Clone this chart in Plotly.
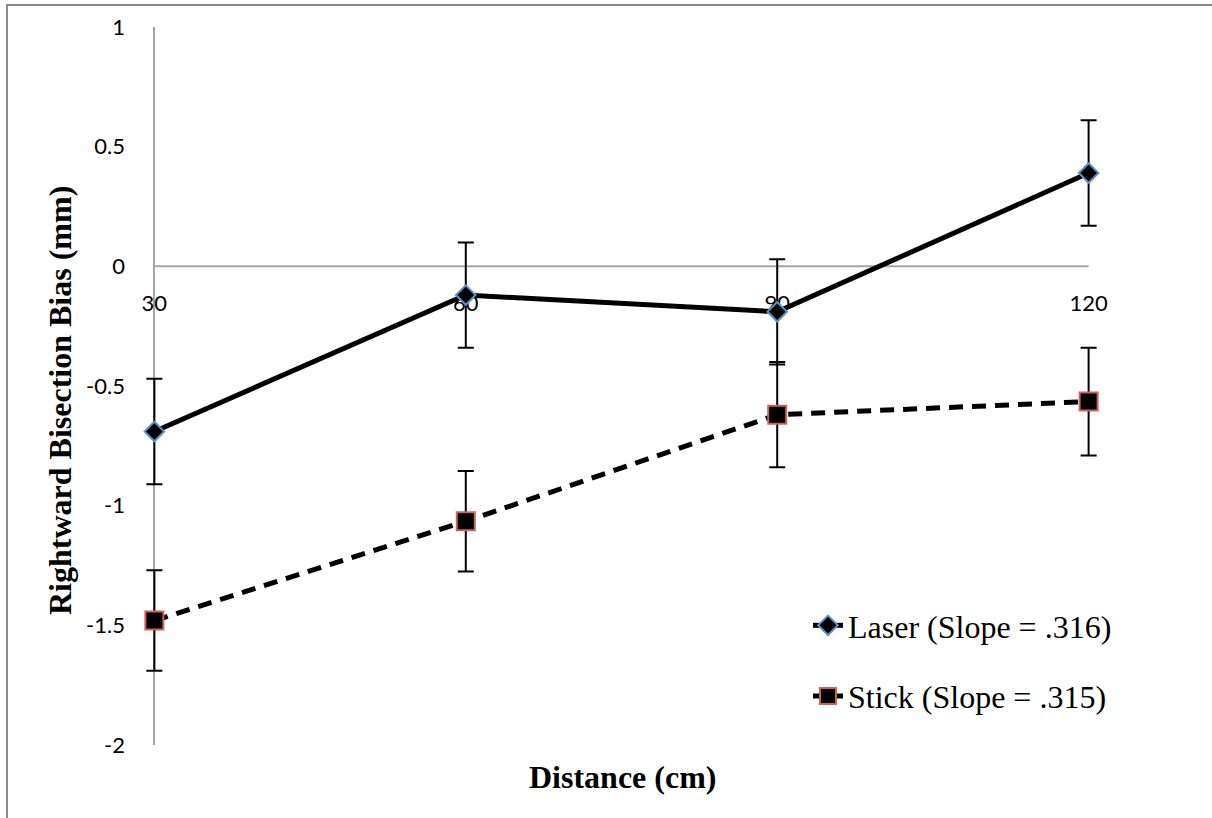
import plotly.graph_objects as go

# ---- data ----
distance = [30, 60, 90, 120]
x_ticktext = ["30", "60", "90", "120"]

laser_bias = [-0.69, -0.12, -0.19, 0.39]
laser_err = [0.22, 0.22, 0.22, 0.22]

stick_bias = [-1.48, -1.065, -0.62, -0.565]
stick_err = [0.21, 0.21, 0.22, 0.225]

y_tickvals = [1, 0.5, 0, -0.5, -1, -1.5, -2]
y_ticktext = ["1", "0.5", "0", "-0.5", "-1", "-1.5", "-2"]

laser_name = "Laser (Slope = .316)"
stick_name = "Stick (Slope = .315)"

# ---- layout geometry ----
W, H = 1212, 818
ML, MR, MT, MB = 144, 113, 27, 73
PW, PH = W - ML - MR, H - MT - MB
YMIN, YMAX = -2, 1
XPAD = 1  # small padding so error-bar caps at the ends are not clipped
XMIN, XMAX = distance[0] - XPAD, distance[-1] + XPAD


def px_x(p):
    return (p - ML) / PW


def px_y(p):
    return (H - MB - p) / PH


fig = go.Figure()

fig.add_trace(go.Scatter(
    x=distance, y=laser_bias, name=laser_name, legendgroup="laser",
    mode="lines+markers", cliponaxis=False,
    line=dict(color="black", width=5),
    marker=dict(symbol="diamond", size=15, color="black",
                line=dict(color="#5B8FCB", width=2)),
    error_y=dict(type="data", array=laser_err, visible=True,
                 color="black", thickness=2, width=8),
))

fig.add_trace(go.Scatter(
    x=distance, y=stick_bias, name=stick_name, legendgroup="stick",
    mode="lines+markers", cliponaxis=False,
    line=dict(color="black", width=5, dash="14px,9px"),
    marker=dict(symbol="square", size=18, color="black",
                line=dict(color="#D0605A", width=2)),
    error_y=dict(type="data", array=stick_err, visible=True,
                 color="black", thickness=2, width=8),
))

axis_grey = "#A6A6A6"

fig.update_layout(
    width=W, height=H,
    margin=dict(l=ML, r=MR, t=MT, b=MB, autoexpand=False),
    paper_bgcolor="white", plot_bgcolor="white",
    showlegend=True,
    legend=dict(
        x=px_x(808), y=px_y(598), xanchor="left", yanchor="top",
        font=dict(family="Liberation Serif", size=32, color="black"),
        bgcolor="rgba(0,0,0,0)", tracegroupgap=26,
    ),
    xaxis=dict(
        range=[XMIN, XMAX], tickvals=distance, ticktext=x_ticktext,
        showgrid=False, zeroline=False, showline=False,
        anchor="free", position=(0 - YMIN) / (YMAX - YMIN),
        layer="below traces", ticks="", ticklabelstandoff=22,
        tickfont=dict(family="Lato", size=22, color="black"),
    ),
    yaxis=dict(
        range=[YMIN, YMAX], tickvals=y_tickvals, ticktext=y_ticktext,
        showgrid=False, zeroline=False, showline=True,
        linecolor=axis_grey, linewidth=2,
        anchor="free", position=(distance[0] - XMIN) / (XMAX - XMIN),
        layer="below traces", ticks="", ticklabelstandoff=24,
        tickfont=dict(family="Lato", size=22, color="black"),
    ),
    annotations=[
        dict(text="<b>Rightward Bisection Bias (mm)</b>", textangle=-90,
             xref="paper", yref="paper", x=px_x(60), y=px_y(401),
             xanchor="center", yanchor="middle", showarrow=False,
             font=dict(family="Liberation Serif", size=32, color="black")),
        dict(text="<b>Distance (cm)</b>",
             xref="paper", yref="paper", x=px_x(622), y=px_y(777),
             xanchor="center", yanchor="middle", showarrow=False,
             font=dict(family="Liberation Serif", size=32, color="black")),
    ],
    shapes=[
        # horizontal category axis line at y = 0
        dict(type="line", xref="x", yref="y",
             x0=distance[0], x1=distance[-1], y0=0, y1=0,
             line=dict(color=axis_grey, width=2), layer="below"),
        # outer chart border
        dict(type="rect", xref="paper", yref="paper",
             x0=px_x(7), x1=px_x(W + 5), y0=px_y(H + 5), y1=px_y(5),
             line=dict(color="#8C8C8C", width=2), fillcolor="rgba(0,0,0,0)",
             layer="below"),
    ],
)

fig.write_html("out.html")
